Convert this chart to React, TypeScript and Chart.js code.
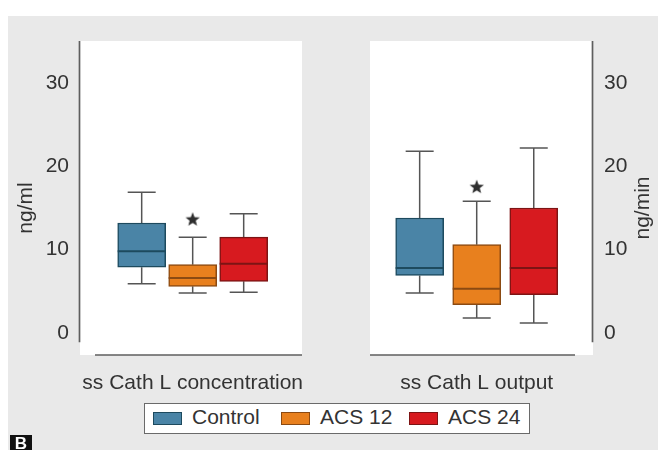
import React, { useEffect, useRef } from 'react';
import { Chart, registerables } from 'chart.js';

Chart.register(...registerables);

// ---------- data ----------
const categories = ['Control', 'ACS 12', 'ACS 24'];
const groupPositions = [1, 2, 3];
const yTicks = [0, 10, 20, 30];

// ss Cath L concentration (ng/ml)
const concMin = [5.9, 4.8, 4.9];
const concQ1 = [7.9, 5.6, 6.2];
const concMedian = [9.8, 6.6, 8.3];
const concQ3 = [13.2, 8.2, 11.5];
const concMax = [16.9, 11.5, 14.3];
const concStar: (number | null)[] = [null, 13.6, null];

// ss Cath L output (ng/min)
const outMin = [4.8, 1.8, 1.2];
const outQ1 = [6.9, 3.4, 4.6];
const outMedian = [7.8, 5.3, 7.8];
const outQ3 = [13.8, 10.6, 15.0];
const outMax = [21.8, 15.8, 22.2];
const outStar: (number | null)[] = [null, 17.5, null];

// ---------- style ----------
const boxFill = ['#4a84a6', '#e8801e', '#d71a1f'];
const boxEdge = ['#1d4a5e', '#8b4a12', '#7d1414'];
const FONT = '"Liberation Sans", Arial, Helvetica, sans-serif';
const TEXT = '#333333';

interface PanelSpec {
  side: 'left' | 'right';
  title: string;
  axisTitle: string;
  mins: number[];
  q1: number[];
  med: number[];
  q3: number[];
  maxs: number[];
  star: (number | null)[];
  xMin: number;
  xMax: number;
}

function makeStar(): HTMLCanvasElement {
  const c = document.createElement('canvas');
  c.width = 16;
  c.height = 16;
  const g = c.getContext('2d')!;
  g.fillStyle = '#2e2e2e';
  g.beginPath();
  for (let k = 0; k < 10; k++) {
    const r = k % 2 === 0 ? 7.5 : 3.2;
    const ang = -Math.PI / 2 + (k * Math.PI) / 5;
    g.lineTo(8 + r * Math.cos(ang), 8 + r * Math.sin(ang));
  }
  g.closePath();
  g.fill();
  return c;
}

function panelPlugin(spec: PanelSpec) {
  return {
    id: 'boxPanel',
    beforeDraw(chart: any) {
      const { ctx, chartArea: a } = chart;
      ctx.save();
      ctx.fillStyle = '#ffffff';
      ctx.fillRect(a.left, a.top, a.right - a.left, a.bottom - a.top);
      ctx.restore();
    },
    beforeDatasetsDraw(chart: any) {
      const { ctx, chartArea: a } = chart;
      const xs = chart.scales.x;
      const ys = chart.scales.y;
      ctx.save();
      // axis lines
      ctx.strokeStyle = '#5e5e5e';
      ctx.lineWidth = 1.7;
      const axX = spec.side === 'left' ? a.left - 0.5 : a.right - 0.5;
      ctx.beginPath();
      ctx.moveTo(axX, a.top);
      ctx.lineTo(axX, ys.getPixelForValue(-1.1));
      ctx.stroke();
      ctx.beginPath();
      if (spec.side === 'left') {
        ctx.moveTo(a.left + 15, a.bottom);
        ctx.lineTo(a.right, a.bottom);
      } else {
        ctx.moveTo(a.left, a.bottom);
        ctx.lineTo(a.right - 18, a.bottom);
      }
      ctx.stroke();
      // whiskers
      ctx.strokeStyle = '#555';
      ctx.lineWidth = 1.5;
      groupPositions.forEach((p, i) => {
        const x = xs.getPixelForValue(p);
        const yMax = ys.getPixelForValue(spec.maxs[i]);
        const yQ3 = ys.getPixelForValue(spec.q3[i]);
        const yMin = ys.getPixelForValue(spec.mins[i]);
        const yQ1 = ys.getPixelForValue(spec.q1[i]);
        ctx.beginPath();
        ctx.moveTo(x, yQ3);
        ctx.lineTo(x, yMax);
        ctx.moveTo(x - 14, yMax);
        ctx.lineTo(x + 14, yMax);
        ctx.moveTo(x, yQ1);
        ctx.lineTo(x, yMin);
        ctx.moveTo(x - 14, yMin);
        ctx.lineTo(x + 14, yMin);
        ctx.stroke();
      });
      ctx.restore();
    },
    afterDatasetsDraw(chart: any) {
      const { ctx } = chart;
      const xs = chart.scales.x;
      const ys = chart.scales.y;
      ctx.save();
      ctx.lineWidth = 2;
      groupPositions.forEach((p, i) => {
        const x = xs.getPixelForValue(p);
        const y = ys.getPixelForValue(spec.med[i]);
        ctx.strokeStyle = boxEdge[i];
        ctx.beginPath();
        ctx.moveTo(x - 24, y);
        ctx.lineTo(x + 24, y);
        ctx.stroke();
      });
      ctx.restore();
    },
    afterDraw(chart: any) {
      const { ctx, chartArea: a } = chart;
      const xs = chart.scales.x;
      ctx.save();
      ctx.fillStyle = TEXT;
      ctx.font = `21px ${FONT}`;
      ctx.textAlign = 'center';
      ctx.textBaseline = 'alphabetic';
      ctx.fillText(spec.title, xs.getPixelForValue(2), a.bottom + 34);
      // rotated axis title (reads bottom to top on both sides)
      const tx = spec.side === 'left' ? a.left - 54 : a.right + 50;
      const ty = (a.top + a.bottom) / 2 + 10;
      ctx.translate(tx, ty);
      ctx.rotate(-Math.PI / 2);
      ctx.textBaseline = 'middle';
      ctx.fillText(spec.axisTitle, 0, 0);
      ctx.restore();
    },
  };
}

function BoxPanel({ spec, width, left }: { spec: PanelSpec; width: number; left: number }) {
  const ref = useRef<HTMLCanvasElement>(null);
  useEffect(() => {
    if (!ref.current) return;
    const starImg = makeStar();
    const starData = groupPositions
      .map((x, i) => (spec.star[i] == null ? null : { x, y: spec.star[i] as number }))
      .filter((d) => d !== null);
    const chart = new Chart(ref.current, {
      type: 'bar',
      data: {
        labels: categories,
        datasets: [
          {
            type: 'bar',
            label: 'box',
            data: groupPositions.map((x, i) => ({ x, y: [spec.q1[i], spec.q3[i]] })) as any,
            backgroundColor: boxFill,
            borderColor: boxEdge,
            borderWidth: 1.5,
            borderSkipped: false,
            barThickness: 48,
            order: 2,
          } as any,
          {
            type: 'scatter',
            label: 'sig',
            data: starData as any,
            pointStyle: starImg as any,
            pointRadius: 8,
            order: 1,
          } as any,
        ],
      },
      options: {
        responsive: false,
        animation: false,
        layout: {
          padding: {
            left: spec.side === 'left' ? 0 : 40,
            right: spec.side === 'left' ? 28 : 0,
            top: 41,
            bottom: 95,
          },
        },
        scales: {
          x: {
            type: 'linear',
            display: false,
            min: spec.xMin,
            max: spec.xMax,
          },
          y: {
            type: 'linear',
            position: spec.side,
            min: -2.64,
            max: 35.04,
            afterBuildTicks: (s: any) => {
              s.ticks = yTicks.map((v) => ({ value: v }));
            },
            afterFit: (s: any) => {
              s.width = spec.side === 'left' ? 80 : 65;
            },
            grid: { display: false, drawTicks: false },
            border: { display: false },
            ticks: {
              padding: 11,
              color: TEXT,
              font: { family: FONT, size: 21 },
            },
          },
        },
        plugins: {
          legend: { display: false },
          tooltip: { enabled: false },
        },
      } as any,
      plugins: [panelPlugin(spec)],
    });
    return () => chart.destroy();
  }, [spec]);
  return (
    <canvas
      ref={ref}
      width={width}
      height={450}
      style={{ position: 'absolute', left, top: 0, width, height: 450 }}
    />
  );
}

const leftSpec: PanelSpec = {
  side: 'left',
  title: 'ss Cath L concentration',
  axisTitle: 'ng/ml',
  mins: concMin,
  q1: concQ1,
  med: concMedian,
  q3: concQ3,
  maxs: concMax,
  star: concStar,
  xMin: 0.516,
  xMax: 3.418,
};

const rightSpec: PanelSpec = {
  side: 'right',
  title: 'ss Cath L output',
  axisTitle: 'ng/min',
  mins: outMin,
  q1: outQ1,
  med: outMedian,
  q3: outQ3,
  maxs: outMax,
  star: outStar,
  xMin: 0.618,
  xMax: 3.55,
};

const legendLefts = [153, 281, 409];

export default function App() {
  return (
    <div
      style={{
        position: 'absolute',
        left: 0,
        top: 0,
        width: 658,
        height: 450,
        background: '#ffffff',
        overflow: 'hidden',
        fontFamily: FONT,
      }}
    >
      <div
        style={{ position: 'absolute', left: 8, top: 16, right: 0, bottom: 0, background: '#e9e9e9' }}
      />
      <BoxPanel spec={leftSpec} width={330} left={0} />
      <BoxPanel spec={rightSpec} width={328} left={330} />
      <div
        style={{
          position: 'absolute',
          left: 144,
          top: 403,
          width: 384,
          height: 29,
          background: '#ffffff',
          border: '1.5px solid #6a6a6a',
        }}
      />
      {categories.map((c, i) => (
        <React.Fragment key={c}>
          <div
            style={{
              position: 'absolute',
              left: legendLefts[i],
              top: 412,
              width: 27,
              height: 11,
              background: boxFill[i],
              border: `1.5px solid ${boxEdge[i]}`,
            }}
          />
          <div
            style={{
              position: 'absolute',
              left: legendLefts[i] + 39,
              top: 405,
              fontSize: 21,
              lineHeight: '24px',
              color: TEXT,
              whiteSpace: 'nowrap',
            }}
          >
            {c}
          </div>
        </React.Fragment>
      ))}
      <div
        style={{
          position: 'absolute',
          left: 10,
          top: 435,
          width: 22,
          height: 16,
          background: '#111',
          color: '#fff',
          fontWeight: 'bold',
          fontSize: 17,
          lineHeight: '18px',
          textAlign: 'center',
        }}
      >
        B
      </div>
    </div>
  );
}
